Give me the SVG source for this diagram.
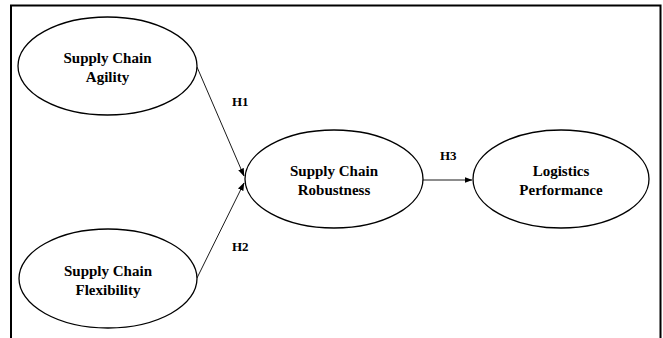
<svg xmlns="http://www.w3.org/2000/svg" width="663" height="338" viewBox="0 0 663 338">
<style>
.node ellipse{fill:#fff;stroke:#000;stroke-width:1.3}
.node text{font-family:"Liberation Serif","Times New Roman",serif;font-weight:bold;font-size:15px;text-anchor:middle;fill:#000}
.lbl{font-family:"Liberation Serif","Times New Roman",serif;font-weight:bold;font-size:13px;fill:#000}
.edge{stroke:#000;stroke-width:0.9;fill:none;marker-end:url(#ah)}
</style>
<defs>
<marker id="ah" markerWidth="8" markerHeight="6" refX="7.5" refY="3" orient="auto" markerUnits="userSpaceOnUse">
<path d="M0,0 L8,3 L0,6 Z" fill="#000"/>
</marker>
</defs>
<rect x="0" y="0" width="663" height="338" fill="#fff"/>
<path d="M11,338 L11,5.5 L660.5,5.5 L660.5,338" fill="none" stroke="#000" stroke-width="2"/>
<g id="connectors">
<path class="edge" d="M197,67 L244,176"/>
<path class="edge" d="M197,278 L244,183"/>
<path class="edge" d="M422,180 L472,180"/>
<text class="lbl" x="232" y="106">H1</text>
<text class="lbl" x="232" y="251">H2</text>
<text class="lbl" x="440" y="160">H3</text>
</g>
<g id="agility" class="node">
<ellipse cx="107.5" cy="66" rx="89.5" ry="49"/>
<text x="107.5" y="63">Supply Chain</text>
<text x="107.5" y="81.5">Agility</text>
</g>
<g id="flexibility" class="node">
<ellipse cx="108" cy="278.5" rx="89" ry="49.5"/>
<text x="108" y="276">Supply Chain</text>
<text x="108" y="294.5">Flexibility</text>
</g>
<g id="robustness" class="node">
<ellipse cx="334" cy="179" rx="89" ry="49"/>
<text x="334" y="176">Supply Chain</text>
<text x="334" y="194.5">Robustness</text>
</g>
<g id="logistics" class="node">
<ellipse cx="561" cy="179" rx="88" ry="49"/>
<text x="561" y="176">Logistics</text>
<text x="561" y="194.5">Performance</text>
</g>
</svg>
